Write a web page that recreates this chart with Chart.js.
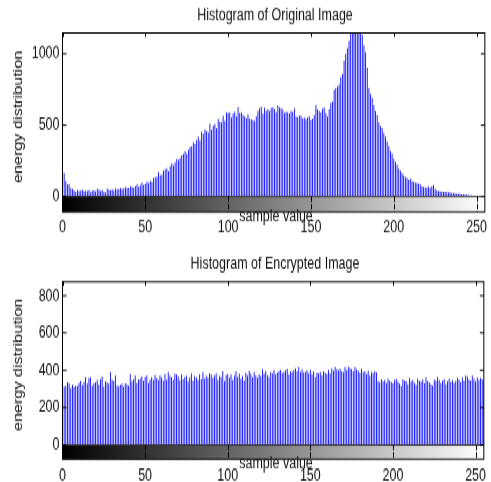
<!DOCTYPE html>
<html>
<head>
<meta charset="utf-8">
<script src="https://cdn.jsdelivr.net/npm/chart.js@4.4.1/dist/chart.umd.min.js"></script>
<style>
  html, body { margin: 0; padding: 0; background: #fff; }
  /* the source figure is stretched vertically, so draw flat and stretch */
  #wrap { position: absolute; left: 0; top: 0; width: 491px; height: 357px; transform: scaleY(1.3501); transform-origin: 0 0; }
  canvas { display: block; }
</style>
</head>
<body>
<div id="wrap">
  <canvas id="orig" width="491" height="182"></canvas>
  <canvas id="enc" width="491" height="175"></canvas>
</div>
<script>
const bins = Array.from({ length: 256 }, (_, i) => i);

const originalCounts = [
  390, 165, 110, 85, 88, 60, 52, 42, 35, 45,
  38, 40, 48, 36, 42, 38, 45, 30, 40, 43,
  37, 55, 48, 38, 45, 32, 28, 55, 48, 44,
  50, 42, 58, 50, 53, 60, 52, 58, 66, 60,
  63, 70, 68, 62, 72, 85, 70, 78, 98, 82,
  90, 105, 95, 112, 100, 130, 135, 140, 172, 150,
  155, 180, 190, 198, 175, 210, 232, 218, 240, 262,
  255, 270, 290, 298, 318, 302, 330, 345, 350, 378,
  368, 395, 420, 390, 455, 440, 472, 460, 448, 512,
  470, 498, 510, 478, 542, 525, 520, 565, 530, 590,
  585, 590, 552, 580, 595, 560, 628, 585, 590, 570,
  562, 548, 575, 545, 540, 535, 530, 560, 600, 618,
  630, 580, 622, 600, 610, 598, 620, 625, 612, 590,
  640, 625, 620, 608, 585, 595, 590, 580, 600, 592,
  618, 560, 555, 568, 565, 548, 552, 540, 555, 560,
  535, 545, 570, 642, 610, 600, 590, 615, 625, 585,
  560, 610, 655, 665, 745, 760, 770, 785, 835, 860,
  950, 1000, 1040, 1090, 1160, 1210, 1260, 1240, 1290, 1200,
  1230, 1130, 1060, 1010, 905, 760, 720, 690, 640, 600,
  570, 520, 495, 478, 445, 420, 385, 352, 320, 300,
  265, 245, 222, 198, 180, 163, 150, 138, 130, 118,
  125, 110, 102, 98, 95, 92, 85, 72, 68, 65,
  62, 70, 60, 72, 82, 55, 42, 38, 36, 35,
  33, 34, 32, 30, 28, 25, 24, 22, 20, 19,
  17, 16, 15, 13, 12, 10, 9, 8, 6, 5,
  5, 4, 3, 3, 3, 2
];

const encryptedCounts = [
  340, 312, 318, 338, 330, 305, 322, 310, 318, 316,
  332, 345, 320, 338, 365, 328, 358, 362, 318, 330,
  335, 348, 322, 352, 368, 312, 340, 335, 328, 392,
  350, 342, 372, 318, 314, 322, 328, 312, 330, 325,
  318, 380, 340, 352, 372, 332, 350, 356, 368, 345,
  365, 372, 332, 350, 365, 348, 375, 358, 348, 372,
  362, 345, 380, 350, 392, 370, 365, 350, 382, 378,
  368, 346, 378, 352, 365, 372, 340, 362, 385, 345,
  370, 362, 348, 378, 352, 392, 355, 372, 360, 385,
  378, 358, 372, 385, 348, 370, 365, 395, 342, 375,
  380, 360, 378, 348, 372, 395, 365, 382, 355, 370,
  345, 388, 372, 398, 382, 362, 392, 372, 360, 378,
  370, 405, 382, 396, 375, 362, 392, 384, 402, 378,
  388, 396, 402, 386, 392, 400, 410, 378, 395, 392,
  402, 412, 395, 418, 392, 405, 390, 392, 400, 385,
  404, 378, 395, 362, 388, 385, 392, 372, 395, 388,
  380, 402, 385, 412, 398, 418, 405, 400, 410, 395,
  392, 418, 400, 420, 412, 408, 395, 418, 405, 398,
  388, 410, 392, 395, 380, 398, 372, 392, 385, 395,
  390, 342, 335, 352, 340, 348, 332, 355, 345, 338,
  330, 348, 355, 340, 328, 315, 352, 345, 342, 325,
  358, 340, 348, 332, 320, 355, 345, 338, 350, 330,
  362, 342, 335, 325, 318, 350, 342, 365, 348, 332,
  345, 352, 325, 340, 355, 338, 348, 332, 342, 360,
  350, 338, 362, 345, 372, 368, 350, 345, 372, 355,
  340, 362, 348, 358, 352, 345
];

const xTicks = [0, 50, 100, 150, 200, 250];
const origYTicks = [0, 500, 1000];
const encYTicks = [0, 200, 400, 600, 800];

const FONT = '"Liberation Sans", Arial, sans-serif';
Chart.defaults.font.family = FONT;
Chart.defaults.font.size = 12.5;
Chart.defaults.color = '#111';

function framePlugin(cfg) {
  return {
    id: 'histFrame',
    beforeDatasetsDraw(chart) {
      const { ctx, chartArea: a, scales: { x, y } } = chart;
      const y0 = y.getPixelForValue(0);
      const g = ctx.createLinearGradient(x.getPixelForValue(0), 0, x.getPixelForValue(255), 0);
      g.addColorStop(0, '#000');
      g.addColorStop(1, '#fff');
      ctx.save();
      ctx.fillStyle = g;
      ctx.fillRect(a.left, y0, a.right - a.left, a.bottom - y0);
      ctx.restore();
    },
    afterDraw(chart) {
      const { ctx, chartArea: a, scales: { x, y } } = chart;
      const y0 = y.getPixelForValue(0);
      ctx.save();
      ctx.lineWidth = 1;
      ctx.strokeStyle = '#333';
      ctx.beginPath(); ctx.moveTo(a.left, y0); ctx.lineTo(a.right, y0); ctx.stroke();

      ctx.strokeStyle = '#000';
      xTicks.forEach(v => {
        const px = Math.round(x.getPixelForValue(v)) + 0.5;
        ctx.beginPath(); ctx.moveTo(px, a.top); ctx.lineTo(px, a.top + 3); ctx.stroke();
        ctx.setLineDash([4, 1.5]);
        ctx.beginPath(); ctx.moveTo(px, y0); ctx.lineTo(px, a.bottom); ctx.stroke();
        ctx.setLineDash([]);
      });
      cfg.yTicks.forEach(v => {
        const py = y.getPixelForValue(v);
        ctx.beginPath(); ctx.moveTo(a.left, py); ctx.lineTo(a.left + 4, py); ctx.stroke();
        ctx.beginPath(); ctx.moveTo(a.right - 4, py); ctx.lineTo(a.right, py); ctx.stroke();
      });
      ctx.strokeRect(a.left, a.top, a.right - a.left, a.bottom - a.top);

      ctx.fillStyle = '#111';
      ctx.textAlign = 'center';
      ctx.textBaseline = 'alphabetic';
      ctx.font = '12.5px ' + FONT;
      ctx.fillText(cfg.title, 275, cfg.titleY);
      ctx.fillText('sample value', 276, a.bottom + 6.6);

      ctx.translate(18.7, (a.top + a.bottom) / 2 - 4.2);
      ctx.rotate(-Math.PI / 2);
      ctx.textBaseline = 'middle';
      ctx.font = '12px ' + FONT;
      ctx.fillText('energy distribution', 0, 0);
      ctx.restore();
    }
  };
}

function makeHist(id, counts, cfg) {
  return new Chart(document.getElementById(id), {
    type: 'bar',
    data: {
      datasets: [{
        data: counts.map((v, i) => ({ x: bins[i], y: v })),
        backgroundColor: '#0000ff',
        borderWidth: 0,
        barPercentage: 0.52,
        categoryPercentage: 1
      }]
    },
    options: {
      responsive: false,
      animation: false,
      devicePixelRatio: 1,
      events: [],
      layout: { padding: { top: cfg.top, left: 0, right: 0.5, bottom: 0 } },
      scales: {
        x: {
          type: 'linear',
          min: 0,
          max: 255,
          offset: false,
          grid: { display: false, drawTicks: false },
          border: { display: false },
          ticks: { padding: cfg.xPad, maxRotation: 0, autoSkip: false, callback: v => String(v) },
          afterBuildTicks: s => { s.ticks = xTicks.map(v => ({ value: v })); },
          afterFit: s => { s.height = cfg.xh; }
        },
        y: {
          min: cfg.yMin,
          max: cfg.yMax,
          grid: { display: false, drawTicks: false },
          border: { display: false },
          ticks: { padding: 3, callback: v => String(v) },
          afterBuildTicks: s => { s.ticks = cfg.yTicks.map(v => ({ value: v })); },
          afterFit: s => { s.width = 62.5; }
        }
      },
      plugins: {
        legend: { display: false },
        tooltip: { enabled: false }
      }
    },
    plugins: [framePlugin(cfg)]
  });
}

makeHist('orig', originalCounts, {
  title: 'Histogram of Original Image',
  titleY: 15.3,
  top: 24.5,
  xh: 25,
  xPad: 4,
  yMin: -108,
  yMax: 1145,
  yTicks: origYTicks
});

makeHist('enc', encryptedCounts, {
  title: 'Histogram of Encrypted Image',
  titleY: 17.3,
  top: 26.7,
  xh: 16.8,
  xPad: 5,
  yMin: -77,
  yMax: 875,
  yTicks: encYTicks
});
</script>
</body>
</html>
